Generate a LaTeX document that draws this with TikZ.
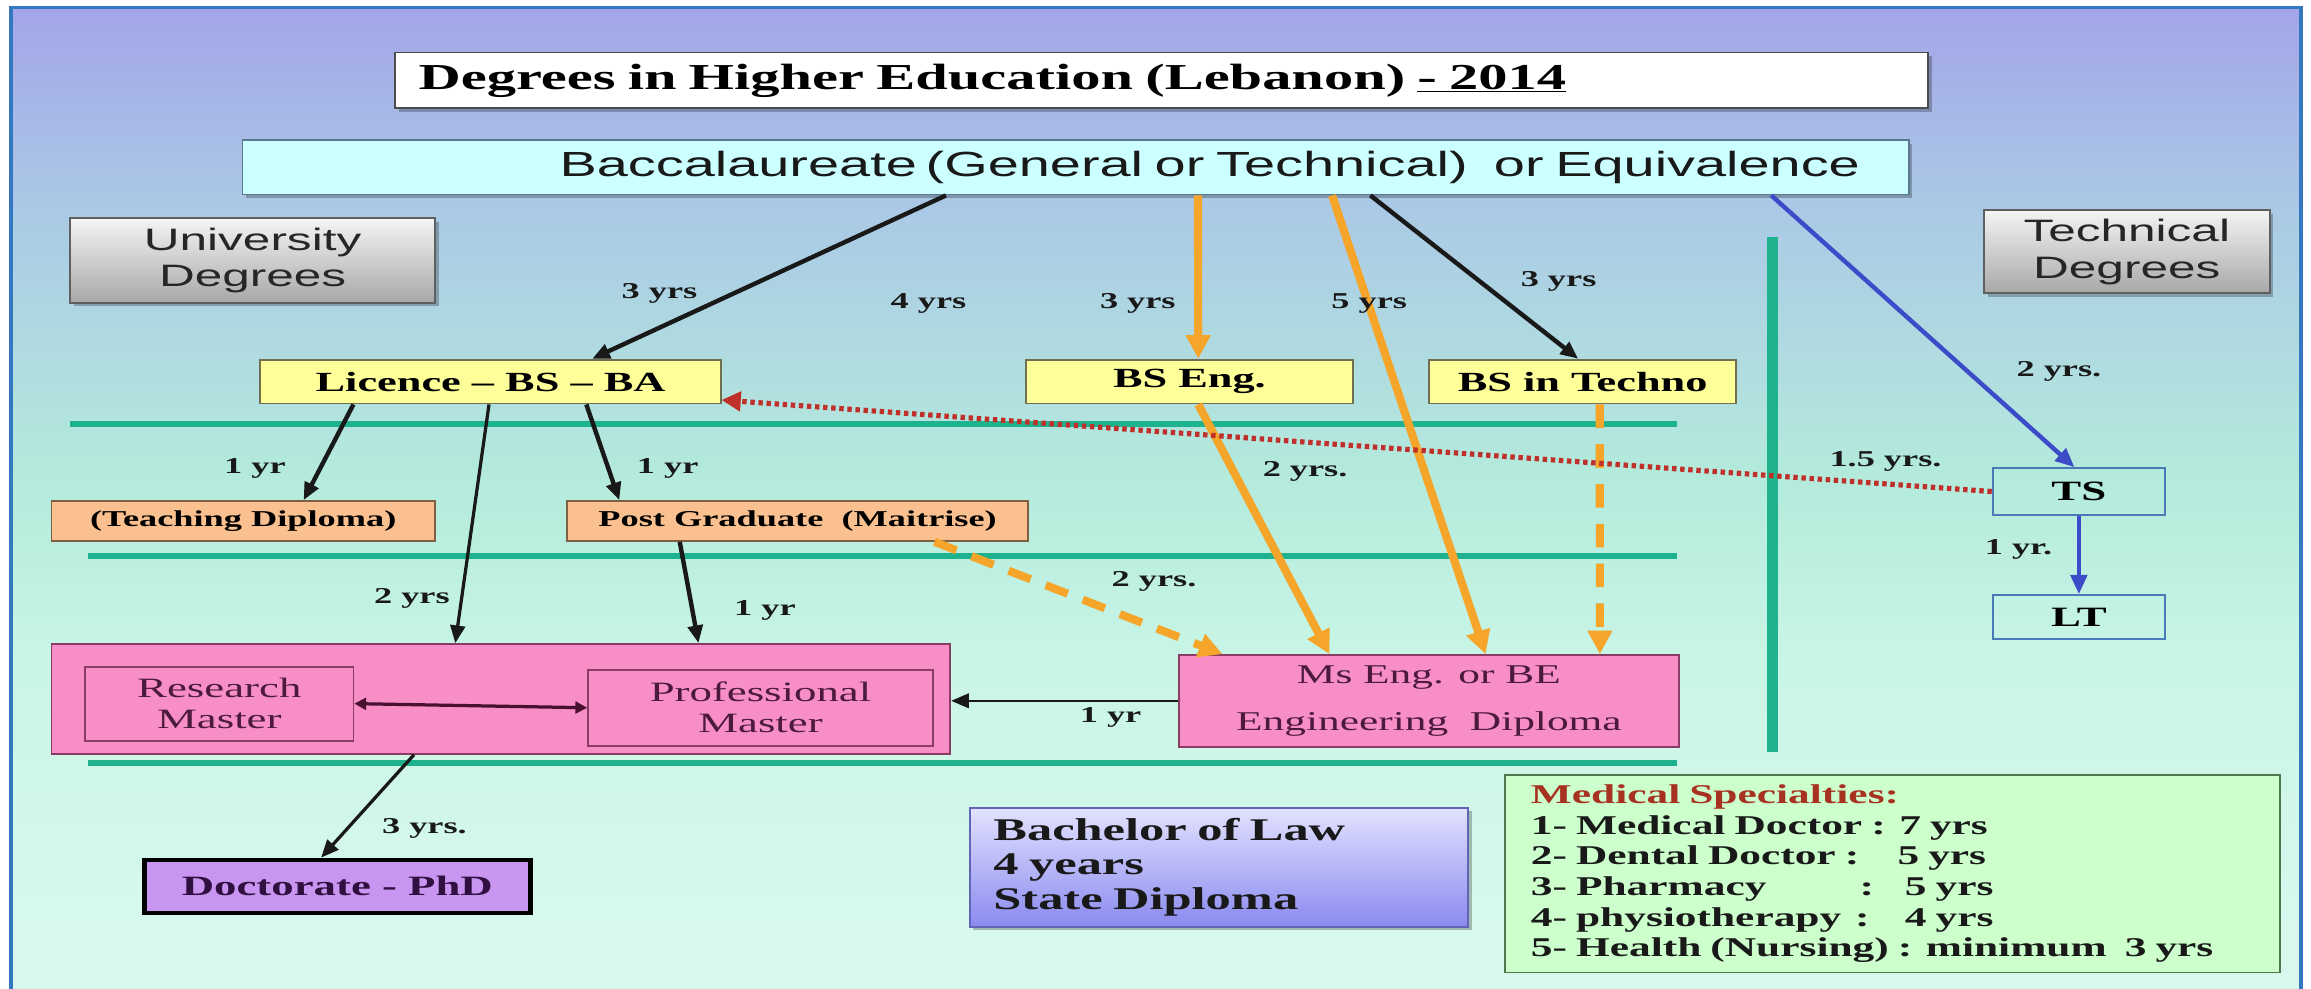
\documentclass[tikz,border=0pt]{standalone}
\usepackage{fontspec}
\setmainfont{Liberation Serif}[FakeStretch=1.6]
\setsansfont{Liberation Sans}[FakeStretch=1.6]
\usetikzlibrary{arrows.meta}
\usetikzlibrary{positioning}
\usetikzlibrary{shadows}
\definecolor{BgTop}{HTML}{A3A5E8}
\definecolor{BgBlue}{HTML}{AAC8E6}
\definecolor{BgMint}{HTML}{B4EBDC}
\definecolor{BgPale}{HTML}{C8F5E6}
\definecolor{BgBot}{HTML}{D8F8EE}
\pgfdeclareverticalshading{bgshade}{100bp}{color(0bp)=(BgBot); color(28.6bp)=(BgBot); color(42.2bp)=(BgPale); color(51.2bp)=(BgMint); color(65.3bp)=(BgBlue); color(75bp)=(BgTop); color(100bp)=(BgTop)}
\definecolor{FrameBlue}{HTML}{3478C0}
\definecolor{BaccCyan}{HTML}{CCFFFF}
\definecolor{BaccEdge}{HTML}{5A7890}
\definecolor{GreyTop}{HTML}{F4F4F4}
\definecolor{GreyBot}{HTML}{A8A8A8}
\definecolor{GreyEdge}{HTML}{5F5F5F}
\definecolor{BoxYellow}{HTML}{FFFF99}
\definecolor{YellowEdge}{HTML}{707050}
\definecolor{BoxPeach}{HTML}{FAC08F}
\definecolor{PeachEdge}{HTML}{806040}
\definecolor{BoxPink}{HTML}{F78FC6}
\definecolor{PinkEdge}{HTML}{8C3C64}
\definecolor{PinkText}{HTML}{4B1A3C}
\definecolor{BoxViolet}{HTML}{C896F0}
\definecolor{DocText}{HTML}{301040}
\definecolor{LawTop}{HTML}{E2E2FF}
\definecolor{LawBot}{HTML}{8A8AF0}
\definecolor{LawEdge}{HTML}{6464B4}
\definecolor{MedGreen}{HTML}{CCFFCC}
\definecolor{MedEdge}{HTML}{507850}
\definecolor{MedRed}{HTML}{A83222}
\definecolor{LineTeal}{HTML}{1FB28E}
\definecolor{NiceOrange}{HTML}{F5A52A}
\definecolor{NiceRed}{HTML}{C0302A}
\definecolor{NiceBlue}{HTML}{3C4CC8}
\definecolor{TechEdge}{HTML}{4A7AB8}
\definecolor{DarkPlum}{HTML}{4A1030}
\tikzset{
    box/.style={draw, rectangle, inner sep=0pt, align=center, line width=1.2pt},
    sz/.style 2 args={minimum width=#1pt, minimum height=#2pt},
    boxshadow/.style={drop shadow={shadow xshift=2.5pt, shadow yshift=-2.5pt, fill=black, opacity=0.25}},
    yrs/.style={inner sep=0pt, text=black!90, font=\fontsize{15.4}{17}\selectfont\bfseries},
    greybox/.style={box, boxshadow, top color=GreyTop, bottom color=GreyBot, draw=GreyEdge, text=black!85, font=\sffamily\fontsize{21}{25}\selectfont},
    ybox/.style={box, fill=BoxYellow, draw=YellowEdge, font=\fontsize{18.8}{21}\selectfont\bfseries},
    obox/.style={box, fill=BoxPeach, draw=PeachEdge, font=\fontsize{15.4}{17}\selectfont\bfseries},
    pinkbox/.style={box, fill=BoxPink, draw=PinkEdge, text=PinkText},
    tbox/.style={box, draw=TechEdge, font=\fontsize{19}{21}\selectfont\bfseries},
    sepline/.style={draw=LineTeal, line width=3.8pt},
    blk/.style={draw=black!90, line width=3pt, -{Triangle[length=12pt,width=10pt]}},
    org/.style={draw=NiceOrange, line width=5.5pt, -{Triangle[length=16pt,width=16pt]}},
    bluearrow/.style={draw=NiceBlue, line width=3pt, -{Triangle[length=13pt,width=11pt]}},
    reddots/.style={draw=NiceRed, line width=3.5pt, dash pattern=on 3pt off 2.5pt, -{Triangle[length=13pt,width=13pt]}},
    dblarrow/.style={draw=DarkPlum, line width=2.2pt, {Triangle[length=8pt,width=8pt]}-{Triangle[length=8pt,width=8pt]}}
}

\begin{document}
\begin{tikzpicture}[x=1pt, y=-1pt]
    \useasboundingbox (0,0) rectangle (1568,671);
    \fill[white] (0,0) rectangle (1568,671);
    \shade[shading=bgshade] (7.5,5) rectangle (1561,680);
    \draw[FrameBlue, line width=2.5pt] (7.5,680) -- (7.5,5) -- (1561,5) -- (1561,680);

    \draw[sepline] (47.7,287.8) -- (1137.5,287.8);
    \draw[sepline] (60,377.2) -- (1137.5,377.2);
    \draw[sepline] (60,517.8) -- (1137.5,517.8);
    \draw[sepline, line width=7pt] (1202.6,161) -- (1202.6,510);

    \node[box, boxshadow, fill=white, draw=black!70, sz={1040}{37.8}, text width=1008pt, inner xsep=16pt, align=left, font=\fontsize{24.8}{28}\selectfont\bfseries] (title) at (788,54.6) {Degrees in Higher Education (Lebanon) \underline{- 2014}};
    \node[box, boxshadow, fill=BaccCyan, draw=BaccEdge, sz={1130.4}{37}, text width=1064.4pt, inner xsep=33pt, align=right, text=black!90, font=\sffamily\fontsize{23.7}{26}\selectfont] (bacc) at (729.8,113.5) {Baccalaureate\hspace{6pt}(General or Technical)\hspace{10pt} or Equivalence};

    \node[greybox, sz={247.3}{57.4}] (univ) at (171.4,176.7) {University\\Degrees};
    \node[greybox, sz={194}{56.4}] (tech) at (1443,170.7) {Technical\\Degrees};

    \node[ybox, sz={312.4}{29.8}] (lic) at (332.8,258.9) {Licence – BS – BA};
    \node[ybox, sz={222}{29.8}] (bseng) at (807,258.9) {BS Eng.};
    \node[ybox, sz={208}{29.8}] (bstech) at (1073.8,258.9) {BS in Techno};

    \node[obox, sz={260}{27}] (teach) at (165,353.5) {(Teaching Diploma)};
    \node[obox, sz={312.5}{27}] (postgrad) at (541.2,353.5) {Post Graduate\ \ (Maitrise)};

    \node[pinkbox, sz={609.8}{74.5}] (masters) at (339.9,474.2) {};
    \node[pinkbox, sz={182}{50.2}, font=\fontsize{19}{21}\selectfont] (research) at (148.8,477.4) {Research\\Master};
    \node[pinkbox, sz={234}{51.5}, font=\fontsize{19}{21}\selectfont] (prof) at (516,480.2) {Professional\\Master};
    \node[pinkbox, sz={339}{62.2}, font=\fontsize{18.4}{31.6}\selectfont] (mseng) at (969.5,475.5) {Ms Eng. or BE\\Engineering\ \ Diploma};

    \node[box, fill=BoxViolet, draw=black, line width=3pt, sz={262}{36}, text=DocText, font=\fontsize{19}{21}\selectfont\bfseries] (phd) at (228.9,601.4) {Doctorate - PhD};
    \node[box, boxshadow, top color=LawTop, bottom color=LawBot, draw=LawEdge, sz={338}{80.7}, text width=306pt, inner xsep=16pt, align=left, text=black!90, font=\fontsize{21.4}{23.7}\selectfont\bfseries] (law) at (827,588.4) {Bachelor of Law\\4 years\\State Diploma};
    \node[box, fill=MedGreen, draw=MedEdge, sz={526}{134}, text width=490.6pt, inner xsep=17.7pt, align=left, text=black!90, font=\fontsize{18.4}{20.8}\selectfont\bfseries] (med) at (1284,592.9) {\textcolor{MedRed}{Medical Specialties:}\\
        1- Medical Doctor : 7 yrs\\
        2- Dental Doctor :\hspace{26pt}5 yrs\\
        \makebox[223pt][l]{3- Pharmacy}:\hspace{21pt}5 yrs\\
        \makebox[220pt][l]{4- physiotherapy}:\hspace{24pt}4 yrs\\
        5- Health (Nursing) : minimum\ \ 3 yrs};

    \node[tbox, sz={117}{31.8}] (ts) at (1410.5,333.5) {TS};
    \node[tbox, sz={117}{30}] (lt) at (1410.5,418.7) {LT};

    \draw[blk] ([xshift=-88pt]bacc.south) -- ([xshift=69pt]lic.north);
    \draw[org] ([xshift=83pt]bacc.south) -- ([xshift=6pt]bseng.north);
    \draw[org] ([xshift=174pt]bacc.south) -- ([xshift=38.5pt]mseng.north);
    \draw[blk] ([xshift=200pt]bacc.south) -- ([xshift=-3pt]bstech.north);
    \draw[bluearrow] ([xshift=472pt]bacc.south) -- ([xshift=-3pt]ts.north);
    \draw[org] ([xshift=6pt]bseng.south) -- ([xshift=-67.5pt]mseng.north);
    \draw[org, dash pattern=on 16pt off 11pt] ([xshift=11.6pt]bstech.south) -- ([xshift=116pt]mseng.north);
    \draw[org, dash pattern=on 16pt off 11pt] ([xshift=-64pt]postgrad.south east) -- ([xshift=30pt]mseng.north west);
    \draw[blk] ([xshift=-93pt]lic.south) -- ([xshift=41pt]teach.north);
    \draw[blk, line width=2.2pt] ([xshift=-1pt]lic.south) -- ([xshift=-31pt]masters.north);
    \draw[blk] ([xshift=65pt]lic.south) -- ([xshift=-121pt]postgrad.north);
    \draw[blk] ([xshift=-80pt]postgrad.south) -- ([xshift=134pt]masters.north);
    \draw[blk, line width=1.2pt] (mseng.west) -- (mseng.west -| masters.east);
    \draw[dblarrow] (research.east) -- (prof.west);
    \draw[blk, line width=2.2pt] ([xshift=-59pt]masters.south) -- ([xshift=-11pt]phd.north);
    \draw[bluearrow] (ts.south) -- (lt.north);
    \draw[reddots] (ts.west) -- ([yshift=3pt]lic.south east);

    \node[yrs] (y1) at (447.5,199) {3 yrs};
    \node[yrs] (y2) at (630,206) {4 yrs};
    \node[yrs] (y3) at (772,205.6) {3 yrs};
    \node[yrs] (y4) at (929,205.6) {5 yrs};
    \node[yrs] (y5) at (1057.5,191) {3 yrs};
    \node[yrs] (y6) at (1397,252.2) {2 yrs.};
    \node[yrs] (y7) at (885.5,319.7) {2 yrs.};
    \node[yrs] (y8) at (1279.3,313.2) {1.5 yrs.};
    \node[yrs] (y9) at (783,394.7) {2 yrs.};
    \node[yrs] (y10) at (173,318) {1 yr};
    \node[yrs] (y11) at (453,318) {1 yr};
    \node[yrs] (y12) at (279.5,405.8) {2 yrs};
    \node[yrs] (y13) at (519,413.9) {1 yr};
    \node[yrs] (y14) at (753.5,486.8) {1 yr};
    \node[yrs] (y15) at (288,562) {3 yrs.};
    \node[yrs] (y16) at (1369.5,373) {1 yr.};
\end{tikzpicture}
\end{document}
